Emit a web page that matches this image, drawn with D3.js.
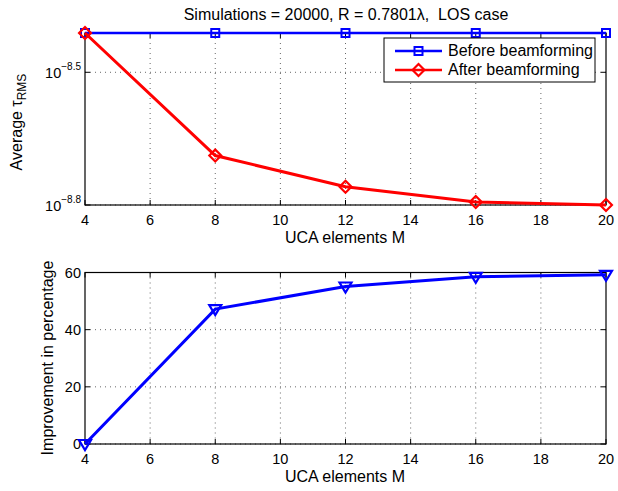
<!DOCTYPE html>
<html>
<head>
<meta charset="utf-8">
<script src="https://cdn.jsdelivr.net/npm/d3@7"></script>
<style>
body { margin: 0; background: #fff; }
text { font-family: "Liberation Sans", Arial, sans-serif; fill: #000; white-space: pre; }
</style>
</head>
<body>
<div id="chart"></div>
<script>
// 数据
const elements = [4, 8, 12, 16, 20]
const beforeBF = [3.88e-9, 3.88e-9, 3.88e-9, 3.88e-9, 3.88e-9]
const afterBF = [3.88e-9, 2.05e-9, 1.743e-9, 1.61e-9, 1.585e-9]
const improvement = [0, 47.2, 55.1, 58.5, 59.2]
const xTicks = [4, 6, 8, 10, 12, 14, 16, 18, 20]
const topTickExp = [-8.8, -8.5]
const bottomTicks = [0, 20, 40, 60]

const width = 618
const height = 491
const labelSize = "16px"
const tickSize = "14.5px"

const svg = d3.select("#chart").append("svg")
	.attr("width", width)
	.attr("height", height)

const x = d3.scaleLinear().domain([4, 20]).range([85, 606])
const yTop = d3.scaleLog().domain([Math.pow(10, -8.8), 3.88e-9]).range([205, 33])
const yBot = d3.scaleLinear().domain([0, 60]).range([444, 272.5])

// 画坐标轴和网格
function drawFrame(y, yT, y0, y1, ylabelFn) {
	const g = svg.append("g")
	// 网格
	g.selectAll(".vgrid").data(xTicks.slice(1, -1)).enter().append("line")
		.attr("x1", d => x(d)).attr("x2", d => x(d))
		.attr("y1", y1).attr("y2", y0)
		.attr("stroke", "#000").attr("stroke-width", 0.6)
		.attr("stroke-dasharray", "1,4")
	g.selectAll(".hgrid").data(yT).enter().append("line")
		.attr("x1", 85).attr("x2", 606)
		.attr("y1", d => y(d)).attr("y2", d => y(d))
		.attr("stroke", "#000").attr("stroke-width", 0.6)
		.attr("stroke-dasharray", "1,4")
	// 框
	g.append("rect")
		.attr("x", 85).attr("y", y1)
		.attr("width", 606 - 85).attr("height", y0 - y1)
		.attr("fill", "none").attr("stroke", "#000").attr("stroke-width", 1.2)
	// x 刻度
	xTicks.forEach(t => {
		g.append("line").attr("x1", x(t)).attr("x2", x(t)).attr("y1", y0).attr("y2", y0 - 5).attr("stroke", "#000")
		g.append("line").attr("x1", x(t)).attr("x2", x(t)).attr("y1", y1).attr("y2", y1 + 5).attr("stroke", "#000")
		g.append("text").text(t)
			.attr("x", x(t)).attr("y", y0 + 20)
			.attr("text-anchor", "middle").attr("font-size", tickSize)
	})
	// y 刻度
	yT.forEach(t => {
		g.append("line").attr("x1", 85).attr("x2", 90).attr("y1", y(t)).attr("y2", y(t)).attr("stroke", "#000")
		g.append("line").attr("x1", 606).attr("x2", 601).attr("y1", y(t)).attr("y2", y(t)).attr("stroke", "#000")
		ylabelFn(g, t)
	})
	g.append("text").text("UCA elements M")
		.attr("x", 345).attr("y", y0 + 38)
		.attr("text-anchor", "middle").attr("font-size", labelSize)
	return g
}

// 上图
drawFrame(yTop, topTickExp.map(e => Math.pow(10, e)), 205, 33, function (g, t) {
	const e = Math.log10(t)
	const tx = g.append("text")
		.attr("x", 81).attr("y", yTop(t) + 6)
		.attr("text-anchor", "end").attr("font-size", tickSize)
	tx.append("tspan").text("10")
	tx.append("tspan").text("\u2212" + Math.abs(e).toFixed(1))
		.attr("font-size", "10px").attr("dy", -8)
})

svg.append("text")
	.attr("transform", "translate(22,122) rotate(-90)")
	.attr("text-anchor", "middle").attr("font-size", labelSize)
	.call(t => {
		t.append("tspan").text("Average \u03c4")
		t.append("tspan").text("RMS").attr("font-size", "12px").attr("dy", 4)
	})

svg.append("text").text("Simulations = 20000, R = 0.7801\u03bb,  LOS case")
	.attr("x", 346).attr("y", 20)
	.attr("text-anchor", "middle").attr("font-size", labelSize)

const lineTop = d3.line().x((d, i) => x(elements[i])).y(d => yTop(d))

svg.append("path").datum(beforeBF)
	.attr("d", lineTop).attr("fill", "none")
	.attr("stroke", "#0000ff").attr("stroke-width", 2.6)
svg.selectAll(".sq").data(beforeBF).enter().append("rect")
	.attr("x", (d, i) => x(elements[i]) - 4).attr("y", d => yTop(d) - 4)
	.attr("width", 8).attr("height", 8)
	.attr("fill", "none").attr("stroke", "#0000ff").attr("stroke-width", 2)

svg.append("path").datum(afterBF)
	.attr("d", lineTop).attr("fill", "none")
	.attr("stroke", "#ff0000").attr("stroke-width", 3)
const diamond = d3.symbol().type(d3.symbolDiamond2).size(90)
svg.selectAll(".dm").data(afterBF).enter().append("path")
	.attr("d", diamond)
	.attr("transform", (d, i) => `translate(${x(elements[i])},${yTop(d)})`)
	.attr("fill", "none").attr("stroke", "#ff0000").attr("stroke-width", 2.2)

// 图例
const legend = svg.append("g")
legend.append("rect")
	.attr("x", 384).attr("y", 38).attr("width", 211).attr("height", 44)
	.attr("fill", "#fff").attr("stroke", "#000").attr("stroke-width", 1)
const legendItems = [
	{ name: "Before beamforming", color: "#0000ff", y: 51, mark: "sq" },
	{ name: "After beamforming", color: "#ff0000", y: 70, mark: "dm" }
]
legendItems.forEach(d => {
	legend.append("line")
		.attr("x1", 395).attr("x2", 442).attr("y1", d.y).attr("y2", d.y)
		.attr("stroke", d.color).attr("stroke-width", 2.6)
	if (d.mark === "sq") {
		legend.append("rect").attr("x", 414.5).attr("y", d.y - 4).attr("width", 8).attr("height", 8)
			.attr("fill", "none").attr("stroke", d.color).attr("stroke-width", 2)
	} else {
		legend.append("path").attr("d", diamond)
			.attr("transform", `translate(418.5,${d.y})`)
			.attr("fill", "none").attr("stroke", d.color).attr("stroke-width", 2.2)
	}
	legend.append("text").text(d.name)
		.attr("x", 448).attr("y", d.y + 5).attr("font-size", "16px")
})

// 下图
drawFrame(yBot, bottomTicks, 444, 272.5, function (g, t) {
	g.append("text").text(t)
		.attr("x", 81).attr("y", yBot(t) + 5)
		.attr("text-anchor", "end").attr("font-size", tickSize)
})

svg.append("text").text("Improvement in percentage")
	.attr("transform", "translate(53,358) rotate(-90)")
	.attr("text-anchor", "middle").attr("font-size", labelSize)

const lineBot = d3.line().x((d, i) => x(elements[i])).y(d => yBot(d))
svg.append("path").datum(improvement)
	.attr("d", lineBot).attr("fill", "none")
	.attr("stroke", "#0000ff").attr("stroke-width", 3)
svg.selectAll(".tri").data(improvement).enter().append("path")
	.attr("d", "M-6,-4L6,-4L0,6Z")
	.attr("transform", (d, i) => `translate(${x(elements[i])},${yBot(d)})`)
	.attr("fill", "none").attr("stroke", "#0000ff").attr("stroke-width", 2.2)
</script>
</body>
</html>
